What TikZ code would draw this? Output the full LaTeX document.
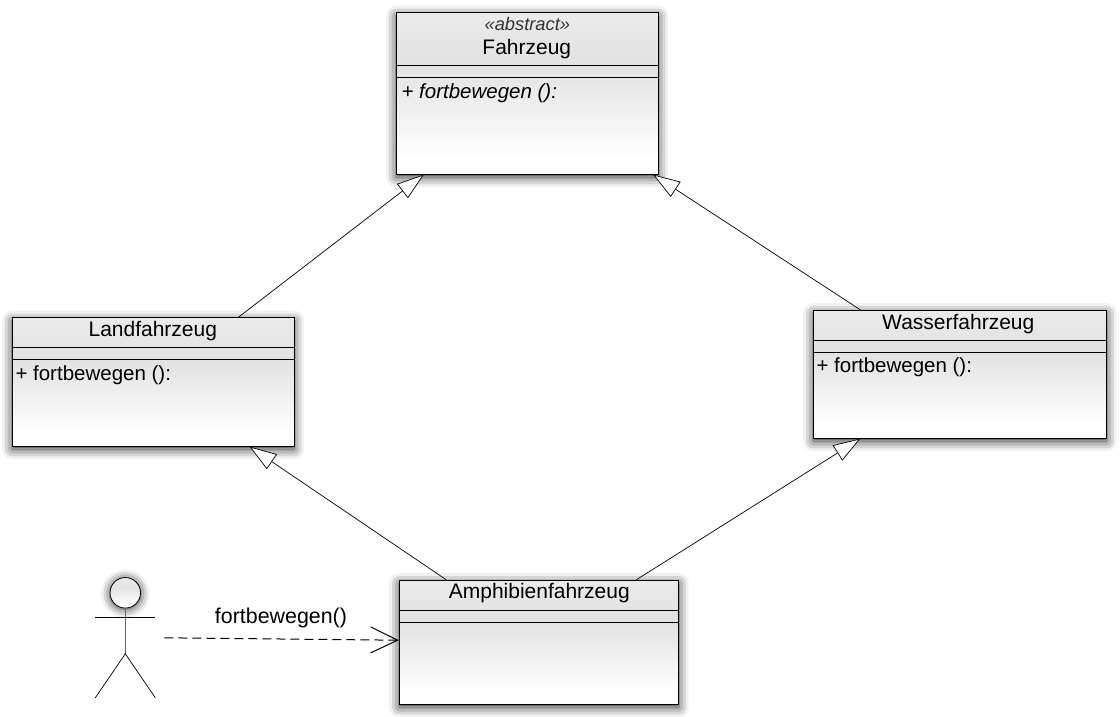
\documentclass[tikz,border=0pt]{standalone}
\usepackage{fontspec}
\setmainfont{Liberation Sans}
\usetikzlibrary{arrows.meta,shadows.blur}

\pgfdeclareverticalshading{umlfill}{100bp}{color(0bp)=(white); color(25bp)=(white); color(30bp)=(white); color(58bp)=(black!11); color(61bp)=(black!11); color(75bp)=(black!8); color(100bp)=(black!8)}

\tikzset{
    umlbox/.style={draw=black,thick,shading=umlfill,anchor=north west,inner sep=0pt,
        blur shadow={shadow xshift=0pt,shadow yshift=-3pt,shadow blur radius=10pt,shadow opacity=85}},
    boxname/.style={font=\fontsize{21}{24}\selectfont,text=black},
    boxop/.style={font=\fontsize{20.5}{24}\selectfont,text=black,anchor=west,inner sep=0pt},
    inherits/.style={draw=black,line width=0.7pt,-{Triangle[open,fill=white,length=27pt,width=18pt]}},
}

\begin{document}
\begin{tikzpicture}[x=1pt,y=-1pt]
            \useasboundingbox (0.7,0.2) rectangle (1120.7,716.2);

            % the four classes
            \node[umlbox,minimum width=262pt,minimum height=161.5pt] (fahrzeug) at (396.5,12.5) {};
            \node[umlbox,minimum width=282pt,minimum height=128.5pt] (land) at (12.5,317.5) {};
            \node[umlbox,minimum width=293.5pt,minimum height=128pt] (wasser) at (813.5,310) {};
            \node[umlbox,minimum width=279.5pt,minimum height=124pt] (amphibien) at (399.5,580) {};

            \draw[thick] (396.5,66) -- (658.5,66);
            \draw[thick] (396.5,78) -- (658.5,78);
            \draw[thick] (12.5,348) -- (294.5,348);
            \draw[thick] (12.5,360) -- (294.5,360);
            \draw[thick] (813.5,341) -- (1107,341);
            \draw[thick] (813.5,353) -- (1107,353);
            \draw[thick] (399.5,611) -- (679,611);
            \draw[thick] (399.5,623) -- (679,623);

            \node[font=\fontsize{18.3}{20}\selectfont\itshape,text=black!80] (stereotype) at (528,24.5) {«abstract»};
            \node[boxname] (fahrzeugname) at (527.5,49.7) {Fahrzeug};
            \node[boxname] (landname) at (153.5,331.7) {Landfahrzeug};
            \node[boxname] (wassername) at (959,324.7) {Wasserfahrzeug};
            \node[boxname] (amphibienname) at (540,593.7) {Amphibienfahrzeug};

            \node[boxop,font=\fontsize{20.5}{24}\selectfont\itshape] (fahrzeugop) at (402,93.7) {+ fortbewegen ():};
            \node[boxop] (landop) at (16,375.7) {+ fortbewegen ():};
            \node[boxop] (wasserop) at (817,367.7) {+ fortbewegen ():};

            % generalisations
            \draw[inherits] ([xshift=226.5pt]land.north west) -- ([xshift=28pt]fahrzeug.south west);
            \draw[inherits] ([xshift=47.5pt]wasser.north west) -- ([xshift=-5.5pt]fahrzeug.south east);
            \draw[inherits] ([xshift=47.5pt]amphibien.north west) -- ([xshift=-45pt]land.south east);
            \draw[inherits] ([xshift=237.5pt]amphibien.north west) -- ([xshift=47.5pt]wasser.south west);

            % the actor
            \node[circle,draw=black,thick,minimum size=30.5pt,inner sep=0pt,shading=umlfill,
                blur shadow={shadow xshift=0pt,shadow yshift=-1pt,shadow blur radius=9pt,shadow opacity=85}] (head) at (126,593) {};
            \coordinate (hip) at (126,654);
            \coordinate (armleft) at (96,618);
            \coordinate (armright) at (156,618);
            \coordinate (footleft) at (96,698);
            \coordinate (footright) at (156,698);
            \draw[black!60,line width=1.6pt] (head) -- (hip);
            \draw[line width=0.7pt] (armleft) -- (armright);
            \draw[line width=0.7pt] (footleft) -- (hip) -- (footright);

            % the call
            \coordinate (callstart) at (165,638);
            \node[font=\fontsize{21.4}{24}\selectfont,text=black] (call) at (281.7,617.7) {fortbewegen()};
            \draw[line width=1pt,dash pattern=on 9pt off 5pt,-{Straight Barb[length=27pt,width=26pt]}] (callstart) -- ([yshift=2pt]amphibien.west);
        \end{tikzpicture}
\end{document}
